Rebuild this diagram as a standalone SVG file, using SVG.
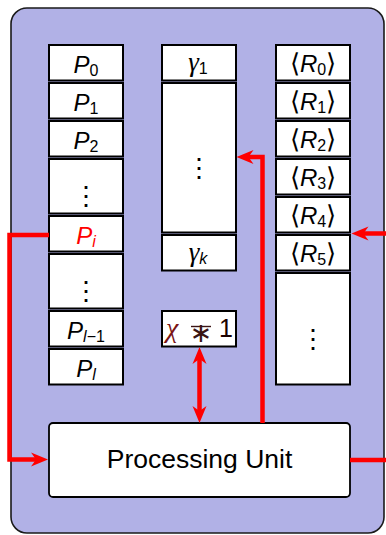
<svg xmlns="http://www.w3.org/2000/svg" width="386" height="535" viewBox="0 0 386 535">
<defs>
<style>
.bg{fill:#b1b1e6;stroke:#1a1a1a;stroke-width:1.6}
.box{fill:#fff;stroke:#000;stroke-width:2}
.lbl{font-family:"Liberation Sans",Arial,sans-serif;font-size:24px;text-anchor:middle;fill:#000}
.it{font-style:italic}
.sub{font-size:16px}
.br{font-family:"DejaVu Sans",sans-serif;font-size:26px;font-weight:200}
.gm{font-family:"Liberation Serif",serif;font-style:italic;font-size:27px}
.dots{font-family:"DejaVu Sans",sans-serif;font-size:26px;font-weight:200;text-anchor:middle;fill:#000}
.red{fill:none;stroke:#ff0000;stroke-width:4.5;stroke-linejoin:miter}
</style>
<marker id="ah" markerUnits="userSpaceOnUse" viewBox="-8 -8 19 16" refX="0" refY="0" markerWidth="19" markerHeight="16" orient="auto-start-reverse">
<path d="M10,0 L-7,-7 L-2,0 L-7,7 Z" fill="#ff0000"/>
</marker>
</defs>
<rect class="bg" x="11" y="8" width="373" height="525" rx="16"/>

<g id="left-column">
<g id="P0"><rect class="box" x="49" y="45" width="74" height="35.5"/><text class="lbl" x="86" y="73"><tspan class="it">P</tspan><tspan class="sub" dy="3">0</tspan></text></g>
<g id="P1"><rect class="box" x="49" y="83" width="74" height="35.5"/><text class="lbl" x="86" y="111"><tspan class="it">P</tspan><tspan class="sub" dy="3">1</tspan></text></g>
<g id="P2"><rect class="box" x="49" y="121" width="74" height="35.5"/><text class="lbl" x="86" y="149"><tspan class="it">P</tspan><tspan class="sub" dy="3">2</tspan></text></g>
<g id="Pdots1"><rect class="box" x="49" y="159" width="74" height="54.5"/><text class="dots" x="86" y="205">⋮</text></g>
<g id="Pi"><rect class="box" x="49" y="216" width="74" height="35.5"/><text class="lbl" x="86" y="244" style="fill:#ff0000"><tspan class="it">P</tspan><tspan class="sub it" dy="3">i</tspan></text></g>
<g id="Pdots2"><rect class="box" x="49" y="254" width="74" height="54.5"/><text class="dots" x="86" y="300">⋮</text></g>
<g id="Pl-1"><rect class="box" x="49" y="311" width="74" height="35.5"/><text class="lbl" x="86" y="339"><tspan class="it">P</tspan><tspan class="sub" dy="3"><tspan class="it">l</tspan>−1</tspan></text></g>
<g id="Pl"><rect class="box" x="49" y="349" width="74" height="35.5"/><text class="lbl" x="86" y="377"><tspan class="it">P</tspan><tspan class="sub it" dy="3">l</tspan></text></g>
</g>

<g id="middle-column">
<g id="gamma1"><rect class="box" x="162" y="45" width="74" height="35.5"/><text class="lbl" x="198" y="71"><tspan class="gm">γ</tspan><tspan class="sub" dy="3">1</tspan></text></g>
<g id="gammadots"><rect class="box" x="162" y="83" width="74" height="149.5"/><text class="dots" x="199" y="177">⋮</text></g>
<g id="gammak"><rect class="box" x="162" y="235" width="74" height="35.5"/><text class="lbl" x="198" y="261"><tspan class="gm">γ</tspan><tspan class="sub it" dy="3">k</tspan></text></g>
</g>

<g id="chi">
<rect class="box" x="162" y="311" width="74" height="35.5"/>
<text x="166" y="337" style="font-family:'Liberation Serif',serif;font-style:italic;font-size:28px;fill:#7a1414">χ</text>
<text x="201" y="342" style="font-family:'DejaVu Sans',sans-serif;font-size:27px;fill:#3a1414;text-anchor:middle">∗</text>
<line x1="191" y1="326.5" x2="211" y2="326.5" stroke="#3a1414" stroke-width="1.4"/>
<text x="226" y="337" style="font-family:'Liberation Sans',sans-serif;font-size:25px;fill:#1a0000;text-anchor:middle">1</text>
</g>

<g id="right-column">
<g id="R0"><rect class="box" x="276" y="45" width="74" height="35.5"/><text class="lbl" x="313" y="72"><tspan class="br">⟨</tspan><tspan class="it">R</tspan><tspan class="sub" dy="3">0</tspan><tspan class="br" dy="-3">⟩</tspan></text></g>
<g id="R1"><rect class="box" x="276" y="83" width="74" height="35.5"/><text class="lbl" x="313" y="110"><tspan class="br">⟨</tspan><tspan class="it">R</tspan><tspan class="sub" dy="3">1</tspan><tspan class="br" dy="-3">⟩</tspan></text></g>
<g id="R2"><rect class="box" x="276" y="121" width="74" height="35.5"/><text class="lbl" x="313" y="148"><tspan class="br">⟨</tspan><tspan class="it">R</tspan><tspan class="sub" dy="3">2</tspan><tspan class="br" dy="-3">⟩</tspan></text></g>
<g id="R3"><rect class="box" x="276" y="159" width="74" height="35.5"/><text class="lbl" x="313" y="186"><tspan class="br">⟨</tspan><tspan class="it">R</tspan><tspan class="sub" dy="3">3</tspan><tspan class="br" dy="-3">⟩</tspan></text></g>
<g id="R4"><rect class="box" x="276" y="197" width="74" height="35.5"/><text class="lbl" x="313" y="224"><tspan class="br">⟨</tspan><tspan class="it">R</tspan><tspan class="sub" dy="3">4</tspan><tspan class="br" dy="-3">⟩</tspan></text></g>
<g id="R5"><rect class="box" x="276" y="235" width="74" height="35.5"/><text class="lbl" x="313" y="262"><tspan class="br">⟨</tspan><tspan class="it">R</tspan><tspan class="sub" dy="3">5</tspan><tspan class="br" dy="-3">⟩</tspan></text></g>
<g id="Rdots"><rect class="box" x="276" y="273" width="74" height="111.5"/><text class="dots" x="313" y="348">⋮</text></g>
</g>

<g id="processing-unit">
<rect class="box" x="49" y="423" width="301" height="74" rx="4" style="stroke-width:1.8"/>
<text class="lbl" x="199.5" y="468" style="font-size:26.5px">Processing Unit</text>
</g>

<g id="connectors">
<path class="red" d="M49,235 H9.5 V459.5 H38" marker-end="url(#ah)"/>
<path class="red" d="M350,460 H389.5 V233.5 H361.5" marker-end="url(#ah)"/>
<path class="red" d="M262.5,423 V157 H246.5" marker-end="url(#ah)"/>
<path class="red" d="M199.5,357 V413" marker-start="url(#ah)" marker-end="url(#ah)"/>
</g>
</svg>
